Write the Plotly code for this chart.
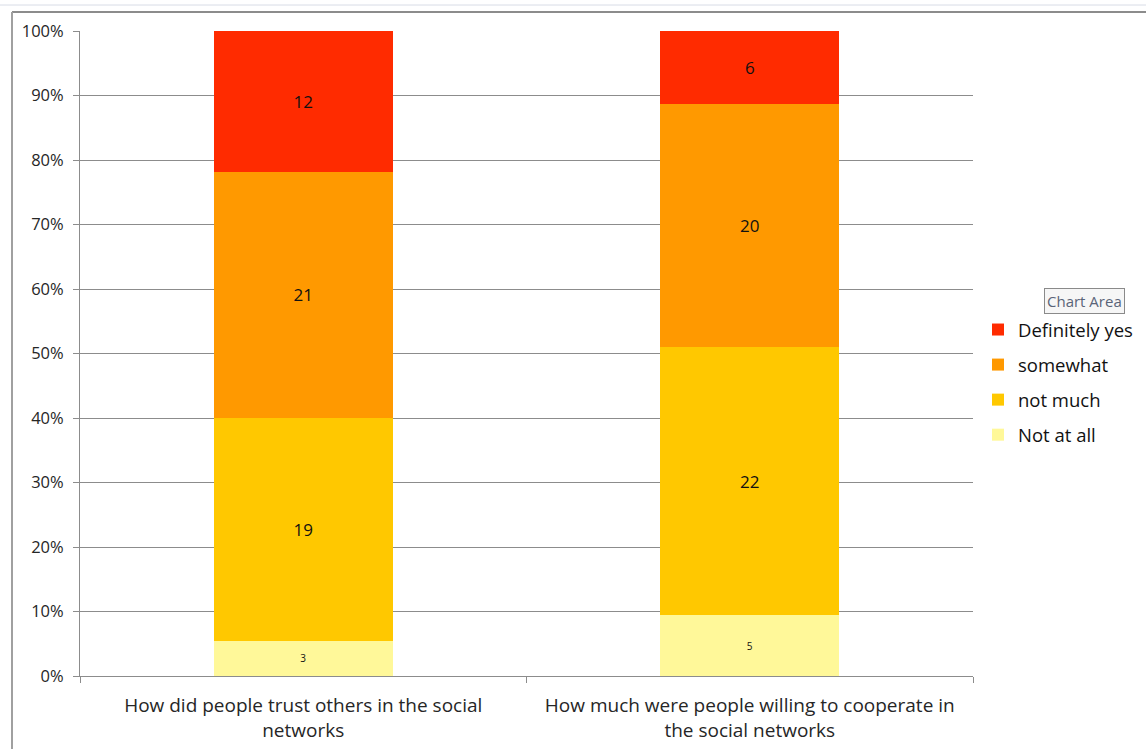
import plotly.graph_objects as go

categories = ["How did people trust others in the social<br>networks",
              "How much were people willing to cooperate in<br>the social networks"]
series_names = ["Not at all", "not much", "somewhat", "Definitely yes"]
not_at_all = [3, 5]
not_much = [19, 22]
somewhat = [21, 20]
definitely_yes = [12, 6]
y_ticks = [0, 10, 20, 30, 40, 50, 60, 70, 80, 90, 100]

colors = ["#FFF899", "#FFC800", "#FF9900", "#FF2B00"]
label_sizes = [10, 17, 17, 17]
ranks = [4, 3, 2, 1]
FONT = "Open Sans, sans-serif"

fig = go.Figure()
for name, vals, col, ls, rk in zip(series_names, [not_at_all, not_much, somewhat, definitely_yes], colors, label_sizes, ranks):
    fig.add_trace(go.Bar(
        name=name, x=categories, y=vals, marker=dict(color=col, line=dict(width=0)),
        text=[str(v) for v in vals], textposition="inside", insidetextanchor="middle",
        textfont=dict(size=ls, color="#111111", family=FONT),
        legendgroup=name, legendrank=rk,
    ))

L, R, T, B = 80, 173, 31, 73
W, H = 1146, 749
pw, ph = W - L - R, H - T - B
def px(x):
    return (x - L) / pw
def py(y):
    return 1 - (y - T) / ph

fig.update_layout(
    barmode="stack", barnorm="percent", bargap=0.6,
    width=W, height=H,
    margin=dict(l=L, r=R, t=T, b=B, autoexpand=False),
    paper_bgcolor="white", plot_bgcolor="white",
    font=dict(family=FONT, color="#404040"),
    showlegend=True,
    legend=dict(x=px(978), y=py(311), xanchor="left", yanchor="top",
                traceorder="grouped", tracegroupgap=8,
                font=dict(size=18.5, color="#111111", family=FONT),
                itemwidth=30, bgcolor="rgba(0,0,0,0)"),
)
fig.update_yaxes(range=[0, 100], tickvals=y_ticks, ticktext=[f"{v}%" for v in y_ticks],
                 showgrid=True, gridcolor="#8C8C8C", gridwidth=1,
                 showline=True, linecolor="#8C8C8C", linewidth=1,
                 ticks="outside", ticklen=6, tickcolor="#8C8C8C", ticklabelstandoff=6,
                 tickfont=dict(size=16.5, color="#262626", family=FONT), zeroline=False)
fig.update_xaxes(showline=True, linecolor="#8C8C8C", linewidth=1, tickson="boundaries",
                 ticks="outside", ticklen=6, tickcolor="#8C8C8C", showgrid=False,
                 ticklabelstandoff=12,
                 tickfont=dict(size=19, color="#262626", family=FONT), mirror=False)

# chart area borders
fig.add_shape(type="line", xref="paper", yref="paper", x0=px(12), x1=px(W), y0=py(12), y1=py(12),
              line=dict(color="#8C8C8C", width=2), layer="above")
fig.add_shape(type="line", xref="paper", yref="paper", x0=px(12), x1=px(12), y0=py(12), y1=py(H),
              line=dict(color="#A0A0A0", width=2), layer="above")
fig.add_shape(type="line", xref="paper", yref="paper", x0=px(0), x1=px(W), y0=py(5), y1=py(5),
              line=dict(color="#D8DCE6", width=1), layer="above")

fig.add_annotation(xref="paper", yref="paper", x=px(1084), y=py(301), xanchor="center", yanchor="middle",
                   text="Chart Area",
                   showarrow=False, font=dict(size=15, color="#5A6478", family=FONT),
                   bgcolor="#F6F6F6", bordercolor="#8A8A8A", borderwidth=1, borderpad=2)

fig.write_html("out.html", config={"displayModeBar": False},
               post_script="document.body.style.margin='0';document.body.style.overflow='hidden';")
